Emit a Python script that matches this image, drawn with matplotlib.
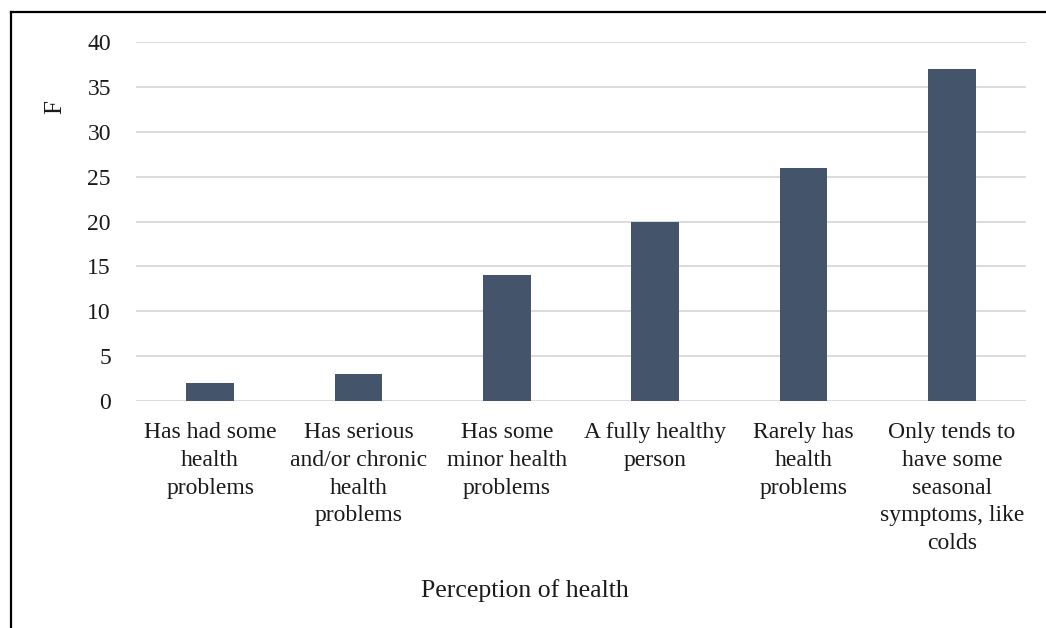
import matplotlib
matplotlib.use("Agg")
import matplotlib.pyplot as plt
from matplotlib.lines import Line2D

categories = [
    "Has had some\nhealth\nproblems",
    "Has serious\nand/or chronic\nhealth\nproblems",
    "Has some\nminor health\nproblems",
    "A fully healthy\nperson",
    "Rarely has\nhealth\nproblems",
    "Only tends to\nhave some\nseasonal\nsymptoms, like\ncolds",
]
values = [2, 3, 14, 20, 26, 37]
yticks = [0, 5, 10, 15, 20, 25, 30, 35, 40]

plt.rcParams['font.family'] = ['Liberation Serif', 'DejaVu Serif']

W, H = 1046, 628
fig = plt.figure(figsize=(W / 100, H / 100), dpi=100)
ax = fig.add_axes([136 / W, 1 - 401 / H, (1026 - 136) / W, (401 - 42) / H])

x = list(range(len(categories)))
ax.bar(x, values, width=0.32, color="#44546A", zorder=3)
ax.set_xlim(-0.5, len(categories) - 0.5)
ax.set_ylim(0, 40)
ax.set_yticks(yticks)
ax.set_xticks(x)
ax.set_xticklabels(categories, fontsize=17, linespacing=1.43, color="#1a1a1a")
ax.tick_params(axis='y', labelsize=17, length=0, pad=18, labelcolor="#1a1a1a")
ax.tick_params(axis='x', length=0, pad=15)
ax.grid(axis='y', color="#D9D9D9", linewidth=1.3, zorder=0)
for s in ax.spines.values():
    s.set_visible(False)

fig.text(525 / W, 1 - 591 / H, "Perception of health", ha='center', va='center',
         fontsize=18.5, color="#1a1a1a")
fig.text(55 / W, 1 - 107 / H, "F", ha='center', va='center', rotation=90,
         fontsize=18, color="#1a1a1a")

# outer frame (left and top visible)
fig.add_artist(Line2D([10.5 / W, 10.5 / W], [0, 1 - 12 / H], transform=fig.transFigure,
                      color="black", linewidth=1.6))
fig.add_artist(Line2D([10.5 / W, 1], [1 - 12 / H, 1 - 12 / H], transform=fig.transFigure,
                      color="black", linewidth=1.6))

fig.savefig("out.png", dpi=100)
